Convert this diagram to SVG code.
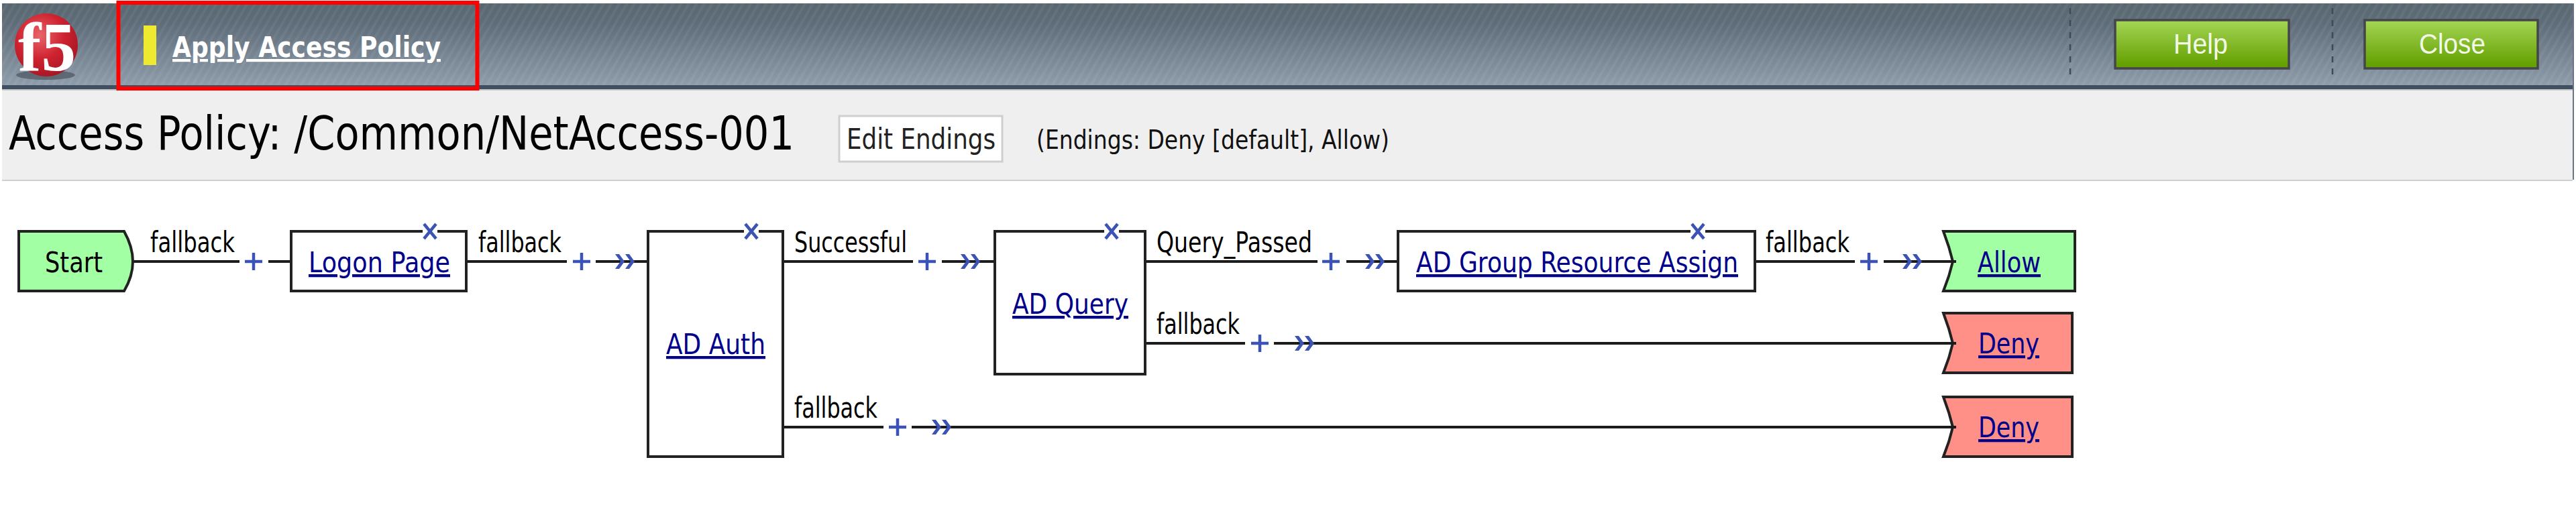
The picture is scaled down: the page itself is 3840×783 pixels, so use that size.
<svg xmlns="http://www.w3.org/2000/svg" width="3840" height="783" viewBox="0 0 3840 783">
<style>
text{font-family:"DejaVu Sans","Liberation Sans",sans-serif;fill:#000}
.box{fill:#fff;stroke:#222;stroke-width:4}
.go{fill:#a3ffa3;stroke:#222;stroke-width:4}
.no{fill:#ff9088;stroke:#222;stroke-width:4}
.lbl{font-size:42px}
.lnk{font-size:43px;fill:#00008b;text-decoration:underline}
.wire{fill:none;stroke:#1c1c1c;stroke-width:4}
.ico{fill:none;stroke:#3a53b4;stroke-width:4.5}
.sep{stroke:#3e4a56;stroke-width:2.5;stroke-dasharray:9 9}
.btn{stroke:#44464a;stroke-width:3.5;fill:url(#btn)}
.btxt{font-family:"Liberation Sans",sans-serif;font-size:42px;fill:#f2f8e6}
</style>
<defs>
<linearGradient id="hdr" x1="0" y1="0" x2="0" y2="1"><stop offset="0" stop-color="#59676f"/><stop offset="0.25" stop-color="#5f6d7a"/><stop offset="1" stop-color="#8f9dab"/></linearGradient>
<linearGradient id="btn" x1="0" y1="0" x2="0" y2="1"><stop offset="0" stop-color="#a5d656"/><stop offset="0.9" stop-color="#66a204"/><stop offset="1" stop-color="#62a000"/></linearGradient>
<radialGradient id="ball" cx="0.4" cy="0.35" r="0.75"><stop offset="0" stop-color="#e8656a"/><stop offset="0.5" stop-color="#cf2230"/><stop offset="1" stop-color="#9c1420"/></radialGradient>
<pattern id="stripe" width="10" height="10" patternUnits="userSpaceOnUse" patternTransform="rotate(30)"><rect width="4" height="10" fill="#fff" fill-opacity="0.05"/></pattern>
<g id="plus" class="ico"><path d="M-13 0H13M0-13V13"/></g>
<path id="arw" fill="#3a53b4" d="M0-11H6L14 0L6 11H0L8 0ZM15-11H21L29 0L21 11H15L23 0Z"/>
<g id="del" class="ico"><path d="M-9-11L9 11M9-11L-9 11"/></g>
</defs>

<rect width="3840" height="783" fill="#fff"/>
<g id="header">
<rect x="3" y="5" width="3832" height="123" fill="url(#hdr)"/>
<rect x="3" y="5" width="3832" height="123" fill="url(#stripe)"/>
<rect x="3" y="127" width="3832" height="6" fill="#3f5062"/>
<rect x="3" y="133" width="3832" height="2" fill="#c8c8c4"/>
<rect x="3835" y="5" width="2" height="263" fill="#6a7488"/>
</g>
<g id="logo">
<ellipse cx="68" cy="112" rx="44" ry="7" fill="#46505a" opacity="0.65"/>
<ellipse cx="69" cy="67" rx="47" ry="47" fill="url(#ball)"/>
<text x="27" y="105" font-size="104" font-weight="700" textLength="86" lengthAdjust="spacingAndGlyphs" style="font-family:'Liberation Serif',serif;fill:#fff">f5</text>
</g>
<g id="apply-access-policy">
<rect x="214" y="38" width="19" height="59" fill="#eeea30"/>
<text x="257" y="85" font-size="42" font-weight="700" textLength="400" lengthAdjust="spacingAndGlyphs" text-decoration="underline" style="fill:#fff">Apply Access Policy</text>
</g>
<g id="help-button">
<line class="sep" x1="3086" y1="12" x2="3086" y2="117"/>
<rect class="btn" x="3153" y="30" width="259" height="72"/>
<text class="btxt" x="3240" y="80" textLength="81" lengthAdjust="spacingAndGlyphs">Help</text>
</g>
<g id="close-button">
<line class="sep" x1="3477" y1="12" x2="3477" y2="117"/>
<rect class="btn" x="3525" y="30" width="258" height="72"/>
<text class="btxt" x="3606" y="80" textLength="99" lengthAdjust="spacingAndGlyphs">Close</text>
</g>
<g id="title-bar">
<rect x="3" y="135" width="3832" height="133" fill="#efefef"/>
<rect x="3" y="268" width="3832" height="2" fill="#cfcfcf"/>
<text x="13" y="223" font-size="70" textLength="1171" lengthAdjust="spacingAndGlyphs">Access Policy: /Common/NetAccess-001</text>
<rect x="1251" y="173" width="243" height="68" fill="#fff" stroke="#cfcfcf" stroke-width="3"/>
<text x="1262" y="222" font-size="42" textLength="222" lengthAdjust="spacingAndGlyphs" style="fill:#222">Edit Endings</text>
<text x="1545" y="222" font-size="39" textLength="526" lengthAdjust="spacingAndGlyphs" style="fill:#111">(Endings: Deny [default], Allow)</text>
</g>
<rect id="highlight" x="176.500" y="4" width="535" height="128" fill="none" stroke="#f00" stroke-width="6"/>

<g id="connectors">
<path class="wire" d="M198 390H357M400 390H434"/>
<path class="wire" d="M695 390H845M888 390H966"/>
<path class="wire" d="M1167 390H1361M1404 390H1482"/>
<path class="wire" d="M1707 390H1964M2007 390H2084"/>
<path class="wire" d="M2616 390H2765M2808 390H2915"/>
<path class="wire" d="M1707 512H1856M1899 512H2915"/>
<path class="wire" d="M1167 637H1317M1359 637H2915"/>
<use href="#plus" x="378" y="390"/>
<use href="#plus" x="867" y="390"/>
<use href="#plus" x="1382" y="390"/>
<use href="#plus" x="1984" y="390"/>
<use href="#plus" x="2786" y="390"/>
<use href="#plus" x="1878" y="512"/>
<use href="#plus" x="1338" y="637"/>
<use href="#arw" x="917" y="390"/>
<use href="#arw" x="1432" y="390"/>
<use href="#arw" x="2035" y="390"/>
<use href="#arw" x="2836" y="390"/>
<use href="#arw" x="1930" y="512"/>
<use href="#arw" x="1389" y="637"/>
<text class="lbl" x="224" y="376" textLength="126" lengthAdjust="spacingAndGlyphs">fallback</text>
<text class="lbl" x="713" y="376" textLength="124" lengthAdjust="spacingAndGlyphs">fallback</text>
<text class="lbl" x="1184" y="376" textLength="168" lengthAdjust="spacingAndGlyphs">Successful</text>
<text class="lbl" x="1724" y="376" textLength="232" lengthAdjust="spacingAndGlyphs">Query_Passed</text>
<text class="lbl" x="2632" y="376" textLength="125" lengthAdjust="spacingAndGlyphs">fallback</text>
<text class="lbl" x="1724" y="498" textLength="124" lengthAdjust="spacingAndGlyphs">fallback</text>
<text class="lbl" x="1184" y="623" textLength="124" lengthAdjust="spacingAndGlyphs">fallback</text>
</g>

<g id="node-start">
<path class="go" d="M28 345H185Q198 368 198 390Q198 412 185 434H28Z"/>
<text class="lbl" x="67" y="406" textLength="86" lengthAdjust="spacingAndGlyphs">Start</text>
</g>
<g id="node-logon-page">
<rect class="box" x="434" y="345" width="261" height="89"/>
<rect x="630" y="340" width="22" height="9" fill="#fff"/>
<use href="#del" x="641" y="345"/>
<text class="lnk" x="460" y="406" textLength="211" lengthAdjust="spacingAndGlyphs">Logon Page</text>
</g>
<g id="node-ad-auth">
<rect class="box" x="966" y="345" width="201" height="336"/>
<rect x="1109" y="340" width="22" height="9" fill="#fff"/>
<use href="#del" x="1120" y="345"/>
<text class="lnk" x="993" y="528" textLength="148" lengthAdjust="spacingAndGlyphs">AD Auth</text>
</g>
<g id="node-ad-query">
<rect class="box" x="1483" y="345" width="224" height="213"/>
<rect x="1646" y="340" width="22" height="9" fill="#fff"/>
<use href="#del" x="1657" y="345"/>
<text class="lnk" x="1509" y="468" textLength="173" lengthAdjust="spacingAndGlyphs">AD Query</text>
</g>
<g id="node-ad-group">
<rect class="box" x="2084" y="345" width="532" height="89"/>
<rect x="2520" y="340" width="22" height="9" fill="#fff"/>
<use href="#del" x="2531" y="345"/>
<text class="lnk" x="2111" y="406" textLength="480" lengthAdjust="spacingAndGlyphs">AD Group Resource Assign</text>
</g>
<g id="node-allow">
<path class="go" d="M2897 345H3093V434H2897L2905 412L2911 390L2905 368Z"/>
<path class="wire" d="M2895 390H2916"/>
<text class="lnk" x="2948" y="406" textLength="94" lengthAdjust="spacingAndGlyphs">Allow</text>
</g>
<g id="node-deny-1">
<path class="no" d="M2897 467H3089V556H2897L2905 534L2911 512L2905 490Z"/>
<path class="wire" d="M2895 512H2916"/>
<text class="lnk" x="2949" y="527" textLength="91" lengthAdjust="spacingAndGlyphs">Deny</text>
</g>
<g id="node-deny-2">
<path class="no" d="M2897 592H3089V681H2897L2905 659L2911 637L2905 615Z"/>
<path class="wire" d="M2895 637H2916"/>
<text class="lnk" x="2949" y="652" textLength="91" lengthAdjust="spacingAndGlyphs">Deny</text>
</g>
</svg>
